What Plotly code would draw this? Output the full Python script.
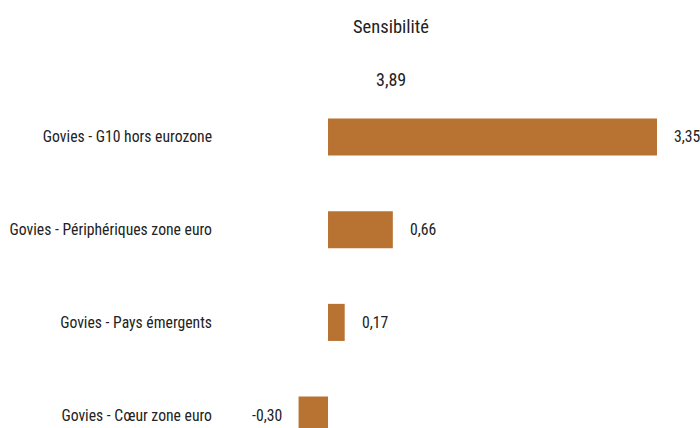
import plotly.graph_objects as go

categories = ["Govies - G10 hors eurozone", "Govies - Périphériques zone euro",
              "Govies - Pays émergents", "Govies - Cœur zone euro"]
values = [3.35, 0.66, 0.17, -0.30]
value_labels = ["3,35", "0,66", "0,17", "-0,30"]
title_text = "Sensibilité"
total_text = "3,89"

FONT = "Roboto Condensed, DejaVu Sans Condensed, sans-serif"
COLOR = "#B87333"
TXT = "#222222"

fig = go.Figure(go.Bar(
    x=values, y=categories, orientation="h",
    marker=dict(color=COLOR, line=dict(width=0)),
    width=0.4, hoverinfo="skip",
))

annotations = []
for c, v, lab in zip(categories, values, value_labels):
    annotations.append(dict(
        x=v, y=c, xref="x", yref="y", text=lab, showarrow=False,
        xanchor="left" if v >= 0 else "right", xshift=15 if v >= 0 else -15,
        font=dict(family=FONT, size=15.7, color=TXT),
    ))

W, H = 700, 428
L, R, T, B = 220, 0, 100, 0
pw, ph = W - L - R, H - T - B
for txt, px, py, fs in [(title_text, 391, 27, 18.5), (total_text, 391, 80, 18)]:
    annotations.append(dict(x=(px - L) / pw, y=1 - (py - T) / ph, xref="paper", yref="paper",
                            xanchor="center", yanchor="middle", text=txt, showarrow=False,
                            font=dict(family=FONT, size=fs, color=TXT)))

fig.update_layout(
    width=W, height=H,
    margin=dict(l=L, r=R, t=T, b=B, pad=0, autoexpand=False),
    paper_bgcolor="white", plot_bgcolor="white",
    showlegend=False,
    annotations=annotations,
    xaxis=dict(range=[-1.100, 3.788], visible=False, fixedrange=True, automargin=False),
    yaxis=dict(type="category", categoryorder="array", categoryarray=categories,
               range=[3.139, -0.399], showgrid=False, zeroline=False, showline=False,
               ticks="", ticklabelstandoff=7, automargin=False,
               tickfont=dict(family=FONT, size=15.7, color=TXT)),
    font=dict(family=FONT),
)

fig.write_html("out.html", config={"displayModeBar": False},
               post_script="document.body.style.margin='0';document.body.style.overflow='hidden';")
